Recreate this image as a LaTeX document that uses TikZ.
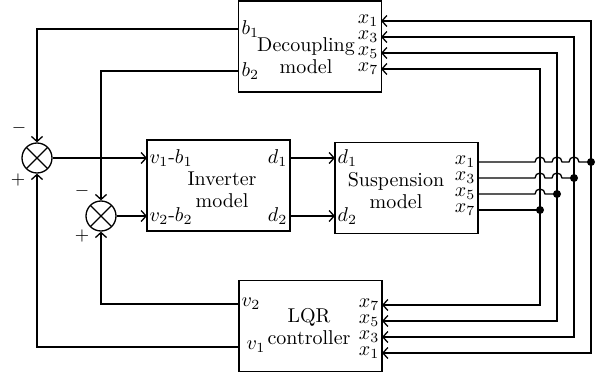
\documentclass[tikz,border=0pt]{standalone}
\usetikzlibrary{arrows.meta,positioning}

\begin{document}
\begin{tikzpicture}[x=0.5pt,y=0.5pt,line width=0.65pt,
  every node/.style={font=\fontsize{10}{11}\selectfont},
  >={Straight Barb[length=2.5pt,width=5.5pt]},
  block/.style={draw,minimum width=71.5pt,minimum height=45.5pt,inner sep=0pt},
  port/.style={inner xsep=1pt,inner ysep=0pt},
  sign/.style={inner sep=0pt,font=\small},
  sumnode/.style={draw,circle,minimum size=15pt,inner sep=0pt,
    path picture={\draw (path picture bounding box.north west) -- (path picture bounding box.south east)
      (path picture bounding box.north east) -- (path picture bounding box.south west);}}]
\useasboundingbox (0,0) rectangle (601,376);

% blocks
\node[block] (dec) at (310,329.5) {};
\node[align=center] (decTxt) at (306,320) {Decoupling\\model};
\node[block] (inv) at (218.5,190.5) {};
\node[align=center] (invTxt) at (222,186) {Inverter\\model};
\node[block] (sus) at (406.5,188) {};
\node[align=center] (susTxt) at (396,185) {Suspension\\model};
\node[block] (lqr) at (310.5,50) {};
\node[align=center] (lqrTxt) at (309,49) {LQR\\controller};

% summing points
\node[sumnode] (s1) at (37,218) {};
\node[sumnode] (s2) at (101,160) {};
\node[sign] at (19,248) {$-$};
\node[sign] at (18,196) {$+$};
\node[sign] at (82,185) {$-$};
\node[sign] at (82,140) {$+$};

% ports
\node[port,anchor=west] (b1) at (239,347) {$b_1$};
\node[port,anchor=west] (b2) at (239,305) {$b_2$};
\node[port,anchor=east] (dx1) at (381,355) {$x_1$};
\node[port,anchor=east] (dx3) at (381,339) {$x_3$};
\node[port,anchor=east] (dx5) at (381,323) {$x_5$};
\node[port,anchor=east] (dx7) at (381,307) {$x_7$};

\node[port,anchor=west] (iv1) at (147,218) {$v_1$-$b_1$};
\node[port,anchor=west] (iv2) at (147,160) {$v_2$-$b_2$};
\node[port,anchor=east] (id1) at (290,218) {$d_1$};
\node[port,anchor=east] (id2) at (290,160) {$d_2$};

\node[port,anchor=west] (sd1) at (335,218) {$d_1$};
\node[port,anchor=west] (sd2) at (335,160) {$d_2$};
\node[port,anchor=east] (sx1) at (478,214) {$x_1$};
\node[port,anchor=east] (sx3) at (478,198) {$x_3$};
\node[port,anchor=east] (sx5) at (478,182) {$x_5$};
\node[port,anchor=east] (sx7) at (478,166) {$x_7$};

\node[port,anchor=west] (lv2) at (239,72) {$v_2$};
\node[port,anchor=west] (lv1) at (244,29) {$v_1$};
\node[port,anchor=east] (lx7) at (382,71) {$x_7$};
\node[port,anchor=east] (lx5) at (382,55) {$x_5$};
\node[port,anchor=east] (lx3) at (382,39) {$x_3$};
\node[port,anchor=east] (lx1) at (382,23) {$x_1$};

% junctions on the state bus
\coordinate (j1) at (591,214);
\coordinate (j3) at (574,198);
\coordinate (j5) at (557,182);
\coordinate (j7) at (540,166);

% feedback paths
\draw[->] (b1.west) -| (s1.north);
\draw[->] (b2.west) -| (s2.north);
\draw[->] (lqr.west |- lv1) -| (s1.south);
\draw[->] (lv2.west) -| (s2.south);
\draw[->] (s1.east) -- (iv1.west);
\draw[->] (s2.east) -- (iv2.west);
\draw[->] (id1.east) -- (sd1.west);
\draw[->] (id2.east) -- (sd2.west);

% states out of the suspension model
\draw (sx1.east) -- (535,214) arc[start angle=180,end angle=0,radius=5]
  -- (552,214) arc[start angle=180,end angle=0,radius=5]
  -- (569,214) arc[start angle=180,end angle=0,radius=5] -- (j1);
\draw (sx3.east) -- (535,198) arc[start angle=180,end angle=0,radius=5]
  -- (552,198) arc[start angle=180,end angle=0,radius=5] -- (j3);
\draw (sx5.east) -- (535,182) arc[start angle=180,end angle=0,radius=5] -- (j5);
\draw (sx7.east) -- (j7);

\foreach \k in {1,3,5,7} {
  \draw[->] (j\k) |- (dx\k.east);
  \draw[->] (j\k) |- (lx\k.east);
  \fill (j\k) circle (2pt);
}
\end{tikzpicture}
\end{document}
